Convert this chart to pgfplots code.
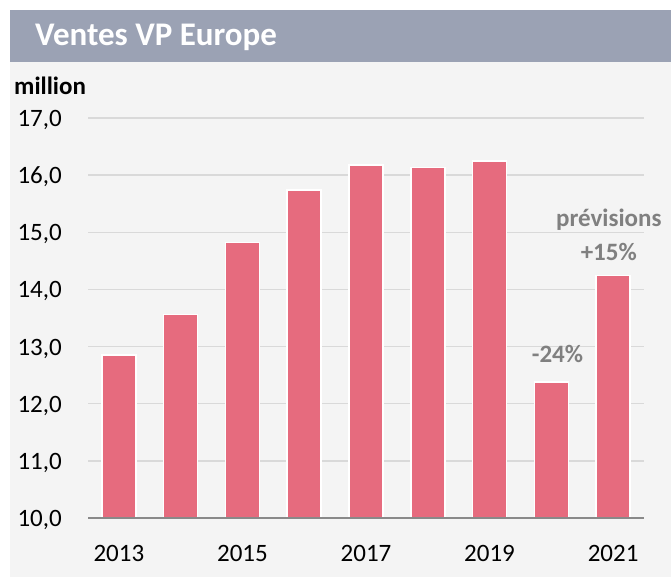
\documentclass[border=0pt]{standalone}
\usepackage{pgfplots}
\pgfplotsset{compat=1.18}
\usepackage{fontspec}
\setmainfont{Carlito}
\definecolor{titlebar}{RGB}{155,162,180}
\definecolor{bgray}{RGB}{244,244,244}
\definecolor{barpink}{RGB}{230,107,126}
\definecolor{gridc}{RGB}{217,217,217}
\definecolor{axisc}{RGB}{137,137,137}
\definecolor{annot}{RGB}{128,128,128}
\begin{document}
\begin{tikzpicture}[x=1pt,y=1pt]
\path[use as bounding box] (0,0) rectangle (671,577);
\fill[white] (0,0) rectangle (671,577);
\fill[bgray] (10,0) rectangle (671,515);
\fill[titlebar] (10,515) rectangle (671,567);
\node[anchor=base west, inner sep=0, text=white, font=\fontsize{33}{40}\selectfont\bfseries] at (35,531.5) {Ventes VP Europe};
\node[anchor=base west, inner sep=0, font=\fontsize{25}{30}\selectfont\bfseries] at (14,482) {million};
\begin{axis}[
  at={(88pt,59pt)}, anchor=south west,
  scale only axis, width=556pt, height=400pt,
  xmin=-0.5, xmax=8.5, ymin=10, ymax=17,
  axis lines*=left,
  x axis line style={draw=none},
  y axis line style={draw=none},
  major tick length=0pt,
  ymajorgrids,
  grid style={draw=gridc, line width=1.3pt},
  ytick={10,11,...,17},
  xtick={0,2,4,6,8},
  xticklabels={2013,2015,2017,2019,2021},
  /pgf/number format/.cd, fixed, fixed zerofill, precision=1, use comma, assume math mode=true,
  /pgfplots/.cd,
  ticklabel style={font=\fontsize{25}{30}\selectfont},
  xticklabel style={anchor=base, yshift=-44pt},
  yticklabel style={anchor=base east, xshift=-22.7pt, yshift=-8.5pt},
  clip=false,
]
\addplot[ybar, bar width=34pt, fill=barpink, draw=white, line width=1.5pt] coordinates {
  (0,12.85) (1,13.56) (2,14.82) (3,15.74) (4,16.18) (5,16.13) (6,16.25) (7,12.38) (8,14.24)
};
\draw[axisc, line width=2.2pt] (axis cs:-0.5,10) -- (axis cs:8.5,10);
\node[anchor=base, font=\fontsize{25}{30}\selectfont\bfseries, text=annot] at (axis cs:7.1,12.72) {-24\%};
\node[anchor=base, font=\fontsize{25}{30}\selectfont\bfseries, text=annot] at (axis cs:7.93,14.50) {+15\%};
\node[anchor=base, font=\fontsize{25}{30}\selectfont\bfseries, text=annot] at (axis cs:7.93,15.10) {prévisions};
\end{axis}
\end{tikzpicture}
\end{document}
